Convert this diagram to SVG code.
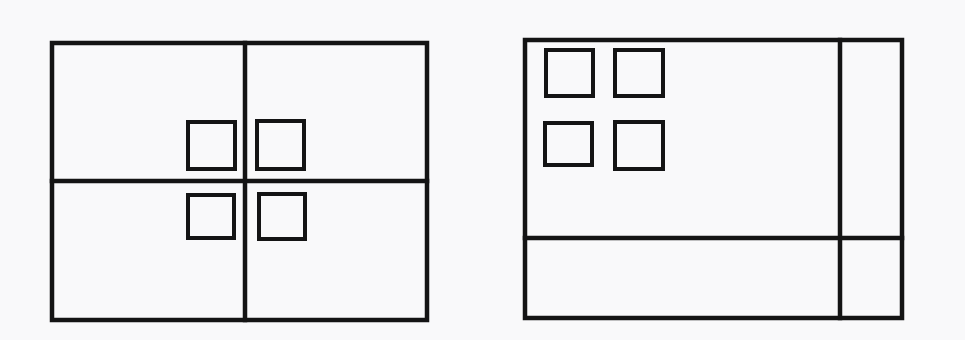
<svg xmlns="http://www.w3.org/2000/svg" width="965" height="340" viewBox="0 0 965 340">
<style>
.ln{fill:none;stroke:#141414;stroke-width:4.5;stroke-linecap:square}
.sq{fill:none;stroke:#141414;stroke-width:4}
</style>
<rect width="965" height="340" fill="#f9f9fa"/>
<g id="left-panel">
<rect class="ln" x="52" y="43" width="375" height="277"/>
<line class="ln" x1="245" y1="43" x2="245" y2="320"/>
<line class="ln" x1="52" y1="181" x2="427" y2="181"/>
</g>
<g id="left-squares">
<rect id="lsq1" class="sq" x="188" y="122" width="47" height="47"/>
<rect id="lsq2" class="sq" x="257" y="121" width="47" height="48"/>
<rect id="lsq3" class="sq" x="188" y="195" width="46" height="43"/>
<rect id="lsq4" class="sq" x="259" y="194" width="46" height="45"/>
</g>
<g id="right-panel">
<rect class="ln" x="525" y="40" width="377" height="278"/>
<line class="ln" x1="840" y1="40" x2="840" y2="318"/>
<line class="ln" x1="525" y1="238" x2="902" y2="238"/>
</g>
<g id="right-squares">
<rect id="rsq1" class="sq" x="546" y="50" width="47" height="46"/>
<rect id="rsq2" class="sq" x="615" y="50" width="48" height="46"/>
<rect id="rsq3" class="sq" x="545" y="123" width="47" height="42"/>
<rect id="rsq4" class="sq" x="615" y="122" width="48" height="47"/>
</g>
<g id="connectors"/>
</svg>
